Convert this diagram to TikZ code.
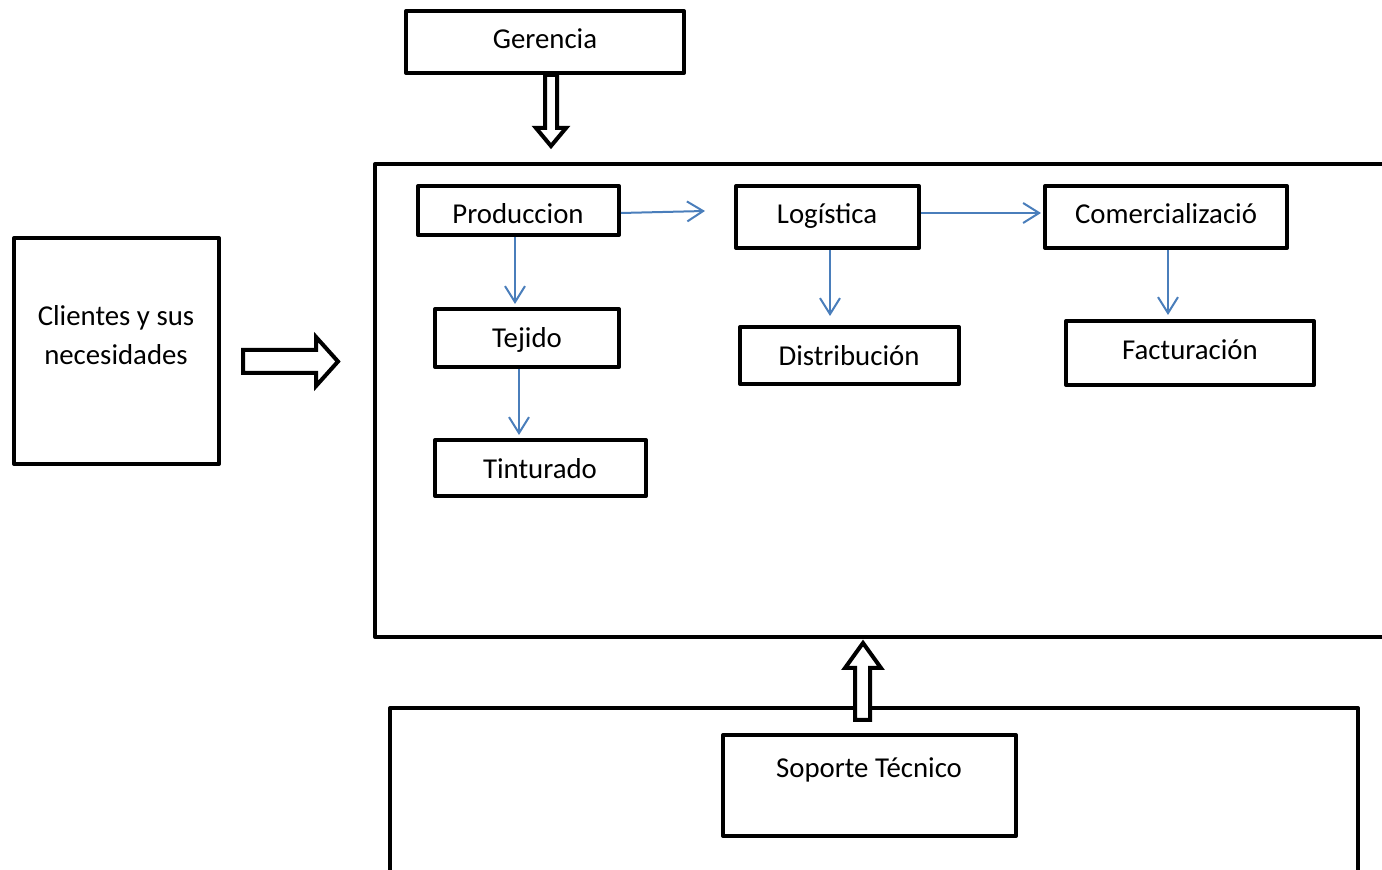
\documentclass[tikz,border=0pt]{standalone}
\usepackage{fontspec}
\setmainfont{Carlito}
\usetikzlibrary{arrows.meta}
\definecolor{flowblue}{RGB}{74,126,187}
\begin{document}
\begin{tikzpicture}[x=0.5pt,y=-0.5pt,
  box/.style={draw=black,line width=2pt,line join=round,inner sep=0pt,rectangle},
  txt/.style={anchor=base,inner sep=0pt,font=\fontsize{14.4}{20}\selectfont},
  flow/.style={draw=flowblue,line width=1pt,-{Straight Barb[length=8pt,width=10pt,line width=1pt]}},
  hollow/.style={draw=black,fill=white,line width=2pt,line join=miter}]
\useasboundingbox (0,0) rectangle (1382,870);
\clip (0,0) rectangle (1382,870);

% frames
\node[box,minimum width=512.5pt,minimum height=236.5pt] (main) at (887.5,400.5) {};
\node[box,minimum width=484pt,minimum height=96pt] (bot) at (874,804) {};

% boxes
\node[box,minimum width=139pt,minimum height=31pt] (ger) at (545,42) {};
\node[box,minimum width=102.5pt,minimum height=113pt] (cli) at (116.5,351) {};
\node[box,minimum width=100.5pt,minimum height=24.5pt] (prod) at (518.5,210.5) {};
\node[box,minimum width=91.5pt,minimum height=31pt] (log) at (827.5,217) {};
\node[box,minimum width=121pt,minimum height=31pt] (com) at (1166,217) {};
\node[box,minimum width=92pt,minimum height=29pt] (tej) at (527,338) {};
\node[box,minimum width=105.5pt,minimum height=28pt] (tin) at (540.5,468) {};
\node[box,minimum width=109.5pt,minimum height=28.5pt] (dis) at (849.5,355.5) {};
\node[box,minimum width=124pt,minimum height=32pt] (fac) at (1190,353) {};
\node[box,minimum width=146.5pt,minimum height=50.5pt] (sop) at (869.5,785.5) {};

% labels
\node[txt] (gerT) at (545,49) {Gerencia};
\node[txt] (cliT1) at (116,326) {Clientes y sus};
\node[txt] (cliT2) at (116,365) {necesidades};
\node[txt] (prodT) at (518,224) {Produccion};
\node[txt] (logT) at (827,224) {Logística};
\node[txt] (comT) at (1166,224) {Comercializació};
\node[txt] (tejT) at (527,348) {Tejido};
\node[txt] (tinT) at (540,479) {Tinturado};
\node[txt] (disT) at (849,366) {Distribución};
\node[txt] (facT) at (1190,360) {Facturación};
\node[txt] (sopT) at (869,778) {Soporte Técnico};

% hollow block arrows
\draw[hollow] (545,75) -- (545,128) -- (536,128) -- (551,146) -- (566,128) -- (557,128) -- (557,75) -- cycle;
\draw[hollow] (243,350) -- (316,350) -- (316,337) -- (338,361.5) -- (316,386) -- (316,373) -- (243,373) -- cycle;
\draw[hollow] (855,720) -- (855,668) -- (845,668) -- (863,643) -- (881,668) -- (870,668) -- (870,720) -- cycle;

% flow connectors
\coordinate (pl) at (705,211);
\draw[flow] ([yshift=-1.25pt]prod.east) -- (pl);
\draw[flow] ([yshift=2pt]log.east) -- ([yshift=2pt,xshift=-1pt]com.west);
\draw[flow] ([xshift=-1.75pt]prod.south) -- ([xshift=-1.75pt,yshift=1.5pt]prod.south |- tej.north);
\draw[flow] ([xshift=-4pt]tej.south) -- ([xshift=-4pt,yshift=1.5pt]tej.south |- tin.north);
\draw[flow] ([xshift=1.25pt]log.south) -- ([xshift=1.25pt,yshift=4.5pt]log.south |- dis.north);
\draw[flow] ([xshift=1pt]com.south) -- ([xshift=1pt,yshift=2pt]com.south |- fac.north);
\end{tikzpicture}
\end{document}
